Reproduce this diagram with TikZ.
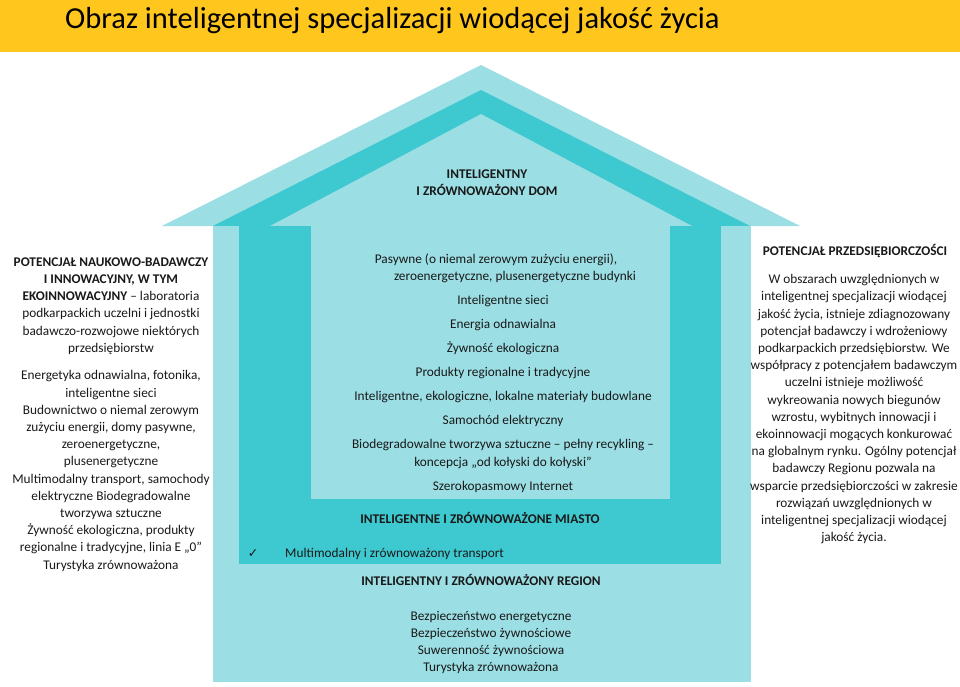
\documentclass[tikz,border=0pt]{standalone}
\usepackage{fontspec}
\setmainfont{Carlito}
\newfontfamily\checkfont{DejaVu Sans}
\usepackage{tikz}
\usetikzlibrary{positioning, calc}
\definecolor{QLyellow}{RGB}{255, 198, 30}
\definecolor{QLlight}{RGB}{155, 222, 228}
\definecolor{QLdark}{RGB}{62, 200, 208}
\definecolor{QLtext}{RGB}{25, 25, 25}
% first line of a block gets a fixed height, so anchor=north sits 12pt above its baseline
\newcommand{\firststrut}{\rule{0pt}{12pt}}
\tikzset{every node/.style={font=\fontsize{13.3}{17.2}\selectfont, text=QLtext, inner sep=0pt}, every path/.style={line cap=round, line join=round}, blocktext/.style={align=center, anchor=north}, headtext/.style={anchor=base, font=\fontsize{13.3}{17.2}\selectfont\bfseries}}

\begin{document}
\begin{tikzpicture}[x=1pt, y=-1pt]
    \useasboundingbox (0,0) rectangle (960,687);
    % title bar
    \fill [QLyellow] (0,0) rectangle (960,52);
    \node [anchor=base west, text=black, font=\fontsize{30.5}{36}\selectfont] (title) at (65,29) {Obraz inteligentnej specjalizacji wiodącej jakość życia};
    % house: roof layers, then walls
    \fill [QLlight] (162,226) -- (481,65) -- (800,226) -- cycle;
    \fill [QLdark] (213,226) -- (481,90) -- (750,226) -- cycle;
    \fill [QLlight] (270,226) -- (481,114) -- (692,226) -- cycle;
    \fill [QLlight] (213,226) rectangle (751,682);
    \fill [QLdark] (239,226) rectangle (721,564);
    \fill [QLlight] (311,226) rectangle (670,499);
    \node [blocktext, font=\fontsize{13.3}{17.2}\selectfont\bfseries] (dom) at (487,166.5) {\firststrut INTELIGENTNY\\I ZRÓWNOWAŻONY DOM};
    \node [blocktext] (domlist) at (503,251.5) {
        \firststrut Pasywne (o niemal zerowym zużyciu energii),\hspace*{14pt}\\
        \hspace*{24pt}zeroenergetyczne, plusenergetyczne budynki\\[6.8pt]
        Inteligentne sieci\\[6.8pt]
        Energia odnawialna\\[6.8pt]
        Żywność ekologiczna\\[6.8pt]
        Produkty regionalne i tradycyjne\\[6.8pt]
        Inteligentne, ekologiczne, lokalne materiały budowlane\\[6.8pt]
        Samochód elektryczny\\[6.8pt]
        Biodegradowalne tworzywa sztuczne – pełny recykling –\\
        koncepcja „od kołyski do kołyski”\\[6.8pt]
        Szerokopasmowy Internet
    };
    \node [headtext] (miasto) at (480,523.5) {INTELIGENTNE I ZRÓWNOWAŻONE MIASTO};
    \node [anchor=base, font=\fontsize{12.5}{14}\checkfont] (tick) at (253,557) {✓};
    \node [anchor=base west] (transport) at (285,557) {Multimodalny i zrównoważony transport};
    \node [headtext] (region) at (481,585.5) {INTELIGENTNY I ZRÓWNOWAŻONY REGION};
    \node [blocktext] (regionlist) at (491,608) {
        \firststrut Bezpieczeństwo energetyczne\\
        Bezpieczeństwo żywnościowe\\
        Suwerenność żywnościowa\\
        Turystyka zrównoważona
    };
    % side columns
    \node [blocktext] (naukowy) at (111,254) {
        \firststrut\textbf{POTENCJAŁ NAUKOWO-BADAWCZY}\\
        \textbf{I INNOWACYJNY, W TYM}\\
        \textbf{EKOINNOWACYJNY} – laboratoria\\
        podkarpackich uczelni i jednostki\\
        badawczo-rozwojowe niektórych\\
        przedsiębiorstw\\[10.5pt]
        Energetyka odnawialna, fotonika,\\
        inteligentne sieci\\
        Budownictwo o niemal zerowym\\
        zużyciu energii, domy pasywne,\\
        zeroenergetyczne,\\
        plusenergetyczne\\
        Multimodalny transport, samochody\\
        elektryczne Biodegradowalne\\
        tworzywa sztuczne\\
        Żywność ekologiczna, produkty\\
        regionalne i tradycyjne, linia E „0”\\
        Turystyka zrównoważona
    };
    \node [headtext] (przedsieb) at (855,255.5) {POTENCJAŁ PRZEDSIĘBIORCZOŚCI};
    \node [blocktext] (przedsieblist) at (854,271.5) {
        \firststrut W obszarach uwzględnionych w\\
        inteligentnej specjalizacji wiodącej\\
        jakość życia, istnieje zdiagnozowany\\
        potencjał badawczy i wdrożeniowy\\
        podkarpackich przedsiębiorstw. We\\
        współpracy z potencjałem badawczym\\
        uczelni istnieje możliwość\\
        wykreowania nowych biegunów\\
        wzrostu, wybitnych innowacji i\\
        ekoinnowacji mogących konkurować\\
        na globalnym rynku. Ogólny potencjał\\
        badawczy Regionu pozwala na\\
        wsparcie przedsiębiorczości w zakresie\\
        rozwiązań uwzględnionych w\\
        inteligentnej specjalizacji wiodącej\\
        jakość życia.
    };
\end{tikzpicture}
\end{document}
